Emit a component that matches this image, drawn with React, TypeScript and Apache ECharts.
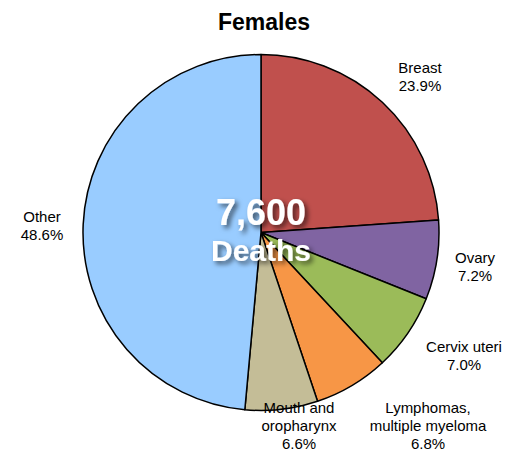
import React, { useEffect, useRef } from "react";
import * as echarts from "echarts";

const categories = ["Breast", "Ovary", "Cervix uteri", "Lymphomas,\nmultiple myeloma", "Mouth and\noropharynx", "Other"];
const values = [23.9, 7.2, 7.0, 6.8, 6.6, 48.6];
const colors = ["#C0504D", "#8064A2", "#9BBB59", "#F79646", "#C4BD97", "#99CCFF"];
const labelPos: [number, number][] = [
  [420, 76],
  [475, 266],
  [464, 355],
  [428, 425],
  [299, 425],
  [42, 225],
];
const totalText = "7,600";
const totalUnit = "Deaths";
const chartTitle = "Females";

export default function App() {
  const ref = useRef<HTMLDivElement>(null);
  useEffect(() => {
    document.body.style.margin = "0";
    const chart = echarts.init(ref.current!, undefined, { renderer: "svg" });
    const font = "Liberation Sans, Arial, Helvetica, sans-serif";
    const shadow = {
      textShadowColor: "rgba(0,0,0,0.6)",
      textShadowBlur: 5,
      textShadowOffsetX: 3,
      textShadowOffsetY: 3,
    };
    chart.setOption({
      animation: false,
      series: [
        {
          type: "pie",
          center: [261, 232.5],
          radius: [0, 178],
          startAngle: 90,
          clockwise: true,
          data: categories.map((c, i) => ({ name: c, value: values[i], itemStyle: { color: colors[i] } })),
          itemStyle: { borderColor: "#000", borderWidth: 1.5 },
          label: {
            show: true,
            position: "outside",
            formatter: (p: any) => `${p.name}\n${p.value.toFixed(1)}%`,
            fontFamily: font,
            fontSize: 15,
            lineHeight: 18,
            color: "#000",
            align: "center",
            overflow: "none",
            width: 200,
          },
          labelLine: { show: false },
          labelLayout: (params: any) => {
            const pos = labelPos[params.dataIndex];
            return { x: pos[0], y: pos[1], align: "center", verticalAlign: "middle" };
          },
          emphasis: { disabled: true },
        },
      ],
      graphic: [
        {
          type: "text",
          x: 264,
          y: 22,
          style: {
            text: chartTitle,
            fill: "#000",
            font: `bold 23px ${font}`,
            textAlign: "center",
            textVerticalAlign: "middle",
          },
        },
        {
          type: "text",
          x: 261,
          y: 212,
          style: {
            text: totalText,
            fill: "#fff",
            font: `bold 36px ${font}`,
            textAlign: "center",
            textVerticalAlign: "middle",
            ...shadow,
          },
          z: 100,
        },
        {
          type: "text",
          x: 261,
          y: 250,
          style: {
            text: totalUnit,
            fill: "#fff",
            font: `bold 30px ${font}`,
            textAlign: "center",
            textVerticalAlign: "middle",
            ...shadow,
          },
          z: 100,
        },
      ],
    });
    return () => chart.dispose();
  }, []);
  return <div ref={ref} style={{ width: 516, height: 451 }} />;
}
